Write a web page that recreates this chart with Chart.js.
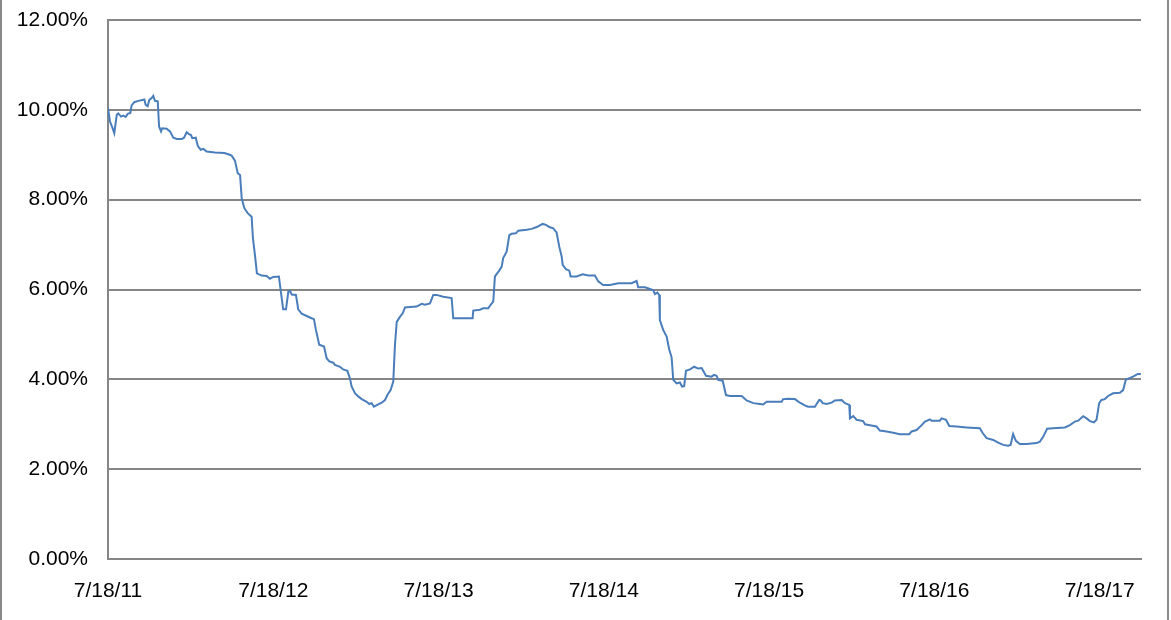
<!DOCTYPE html>
<html>
<head>
<meta charset="utf-8">
<script src="https://cdn.jsdelivr.net/npm/chart.js@4/dist/chart.umd.min.js"></script>
<style>
  html, body { margin: 0; padding: 0; background: #fff; }
  #wrap { position: relative; width: 1171px; height: 620px; }
</style>
</head>
<body>
<div id="wrap"><canvas id="chart"></canvas></div>
<script>
// years after 7/18/11
const t = [
  0.000, 0.012, 0.026, 0.038, 0.053, 0.062, 0.079, 0.093, 0.107, 0.119,
  0.135, 0.143, 0.159, 0.183, 0.208, 0.220, 0.228, 0.240, 0.250, 0.264,
  0.274, 0.284, 0.301, 0.309, 0.321, 0.328, 0.355, 0.375, 0.395, 0.416,
  0.446, 0.460, 0.476, 0.490, 0.502, 0.510, 0.531, 0.543, 0.561, 0.577,
  0.597, 0.647, 0.704, 0.728, 0.748, 0.768, 0.785, 0.799, 0.809, 0.825,
  0.845, 0.869, 0.877, 0.889, 0.901, 0.930, 0.960, 0.980, 1.000, 1.034,
  1.047, 1.060, 1.077, 1.091, 1.101, 1.111, 1.137, 1.151, 1.172, 1.202,
  1.232, 1.246, 1.258, 1.278, 1.307, 1.323, 1.339, 1.363, 1.373, 1.404,
  1.423, 1.448, 1.464, 1.474, 1.494, 1.514, 1.535, 1.565, 1.581, 1.595,
  1.609, 1.629, 1.656, 1.676, 1.690, 1.710, 1.726, 1.736, 1.747, 1.766,
  1.783, 1.797, 1.827, 1.867, 1.898, 1.918, 1.948, 1.968, 1.988, 2.028,
  2.079, 2.089, 2.149, 2.206, 2.210, 2.250, 2.270, 2.301, 2.315, 2.331,
  2.341, 2.367, 2.382, 2.391, 2.412, 2.428, 2.442, 2.468, 2.482, 2.533,
  2.563, 2.594, 2.630, 2.650, 2.670, 2.694, 2.714, 2.730, 2.745, 2.751,
  2.771, 2.791, 2.799, 2.835, 2.872, 2.906, 2.946, 2.966, 2.996, 3.037,
  3.087, 3.168, 3.198, 3.208, 3.249, 3.279, 3.299, 3.309, 3.323, 3.335,
  3.339, 3.359, 3.380, 3.396, 3.410, 3.420, 3.440, 3.460, 3.473, 3.486,
  3.497, 3.521, 3.547, 3.571, 3.592, 3.618, 3.652, 3.666, 3.682, 3.692,
  3.719, 3.739, 3.763, 3.834, 3.864, 3.904, 3.944, 3.964, 3.985, 4.076,
  4.085, 4.115, 4.156, 4.186, 4.216, 4.236, 4.277, 4.303, 4.312, 4.324,
  4.348, 4.378, 4.398, 4.439, 4.459, 4.485, 4.489, 4.509, 4.529, 4.569,
  4.580, 4.610, 4.650, 4.670, 4.711, 4.751, 4.791, 4.848, 4.862, 4.892,
  4.923, 4.943, 4.973, 4.983, 5.033, 5.044, 5.070, 5.090, 5.134, 5.195,
  5.275, 5.291, 5.316, 5.356, 5.386, 5.416, 5.446, 5.461, 5.476, 5.493,
  5.517, 5.558, 5.618, 5.638, 5.658, 5.682, 5.718, 5.789, 5.820, 5.850,
  5.870, 5.900, 5.921, 5.941, 5.965, 5.981, 5.997, 6.011, 6.031, 6.051,
  6.081, 6.122, 6.142, 6.158, 6.176, 6.202, 6.231, 6.249
];

// yield, percent
const yields = [
  10.05, 9.74, 9.61, 9.48, 9.89, 9.92, 9.85, 9.87, 9.84, 9.91,
  9.93, 10.10, 10.17, 10.20, 10.22, 10.23, 10.11, 10.08, 10.22, 10.26,
  10.31, 10.20, 10.19, 9.63, 9.52, 9.59, 9.58, 9.52, 9.38, 9.35,
  9.35, 9.38, 9.50, 9.46, 9.44, 9.37, 9.38, 9.20, 9.11, 9.13,
  9.07, 9.05, 9.04, 9.01, 8.98, 8.87, 8.59, 8.55, 8.03, 7.81,
  7.70, 7.62, 7.14, 6.77, 6.36, 6.31, 6.30, 6.24, 6.28, 6.29,
  5.92, 5.56, 5.56, 5.95, 5.97, 5.89, 5.88, 5.56, 5.46, 5.41,
  5.36, 5.34, 5.10, 4.77, 4.73, 4.47, 4.40, 4.37, 4.32, 4.28,
  4.22, 4.19, 4.02, 3.84, 3.69, 3.62, 3.56, 3.50, 3.45, 3.47,
  3.39, 3.43, 3.48, 3.54, 3.65, 3.76, 3.95, 4.76, 5.28, 5.39,
  5.47, 5.60, 5.61, 5.62, 5.68, 5.66, 5.69, 5.88, 5.88, 5.84,
  5.81, 5.36, 5.36, 5.36, 5.53, 5.55, 5.58, 5.58, 5.66, 5.73,
  6.29, 6.42, 6.51, 6.70, 6.84, 7.21, 7.24, 7.25, 7.31, 7.33,
  7.35, 7.39, 7.46, 7.44, 7.39, 7.36, 7.27, 6.96, 6.73, 6.55,
  6.45, 6.42, 6.29, 6.29, 6.34, 6.31, 6.31, 6.18, 6.10, 6.10,
  6.14, 6.14, 6.19, 6.05, 6.05, 6.01, 5.98, 5.90, 5.93, 5.88,
  5.32, 5.10, 4.95, 4.66, 4.49, 3.99, 3.91, 3.93, 3.84, 3.85,
  4.19, 4.22, 4.28, 4.24, 4.25, 4.08, 4.06, 4.10, 4.08, 3.99,
  3.97, 3.65, 3.63, 3.63, 3.53, 3.47, 3.45, 3.44, 3.50, 3.50,
  3.56, 3.57, 3.56, 3.48, 3.42, 3.39, 3.39, 3.54, 3.53, 3.47,
  3.45, 3.48, 3.53, 3.54, 3.47, 3.43, 3.13, 3.18, 3.10, 3.07,
  3.00, 2.98, 2.95, 2.86, 2.84, 2.81, 2.78, 2.78, 2.84, 2.87,
  2.98, 3.06, 3.11, 3.08, 3.08, 3.13, 3.10, 2.96, 2.95, 2.93,
  2.91, 2.81, 2.69, 2.65, 2.59, 2.54, 2.52, 2.54, 2.78, 2.63,
  2.56, 2.56, 2.58, 2.61, 2.72, 2.90, 2.91, 2.93, 2.98, 3.06,
  3.08, 3.18, 3.13, 3.07, 3.04, 3.10, 3.47, 3.54, 3.56, 3.63,
  3.69, 3.70, 3.76, 3.99, 4.02, 4.06, 4.12, 4.12
];

const xTicks = [0, 1, 2, 3, 4, 5, 6];
const xTickLabels = ['7/18/11', '7/18/12', '7/18/13', '7/18/14', '7/18/15', '7/18/16', '7/18/17'];
const yTicks = [0, 2, 4, 6, 8, 10, 12];

const points = t.map((x, i) => ({ x: x, y: yields[i] }));

// gray side rules of the outer frame
const framePlugin = {
  id: 'frame',
  afterDraw(chart) {
    const ctx = chart.ctx;
    ctx.save();
    ctx.strokeStyle = '#8a8a8a';
    ctx.lineWidth = 2;
    ctx.beginPath();
    ctx.moveTo(1, 0); ctx.lineTo(1, chart.height);
    ctx.moveTo(1168, 0); ctx.lineTo(1168, chart.height);
    ctx.stroke();
    ctx.restore();
  }
};

new Chart(document.getElementById('chart'), {
  type: 'line',
  data: {
    datasets: [{
      data: points,
      borderColor: '#4a7ebb',
      borderWidth: 2,
      pointRadius: 0,
      tension: 0,
      fill: false
    }]
  },
  options: {
    responsive: true,
    maintainAspectRatio: false,
    animation: false,
    events: [],
    layout: { padding: { top: 20, right: 30, left: 0, bottom: 0 } },
    plugins: { legend: { display: false }, tooltip: { enabled: false } },
    scales: {
      x: {
        type: 'linear',
        min: 0,
        max: 6.25,
        afterBuildTicks: s => { s.ticks = xTicks.map(v => ({ value: v })); },
        afterFit: s => { s.height = 61; s.paddingLeft = 0; s.paddingRight = 0; },
        grid: { display: false, drawTicks: false },
        border: { display: true, color: '#868686', width: 2 },
        ticks: {
          padding: 20,
          maxRotation: 0,
          autoSkip: false,
          color: '#000',
          font: { family: '"Liberation Sans", Arial, sans-serif', size: 21 },
          callback: v => xTickLabels[xTicks.indexOf(v)]
        }
      },
      y: {
        min: 0,
        max: 12,
        afterBuildTicks: s => { s.ticks = yTicks.map(v => ({ value: v })); },
        afterFit: s => { s.width = 108; s.paddingTop = 0; s.paddingBottom = 0; },
        grid: { color: '#868686', lineWidth: 2, drawTicks: false },
        border: { display: true, color: '#868686', width: 2 },
        ticks: {
          padding: 20,
          color: '#000',
          font: { family: '"Liberation Sans", Arial, sans-serif', size: 21 },
          callback: v => v.toFixed(2) + '%'
        }
      }
    }
  },
  plugins: [framePlugin]
});
</script>
</body>
</html>
